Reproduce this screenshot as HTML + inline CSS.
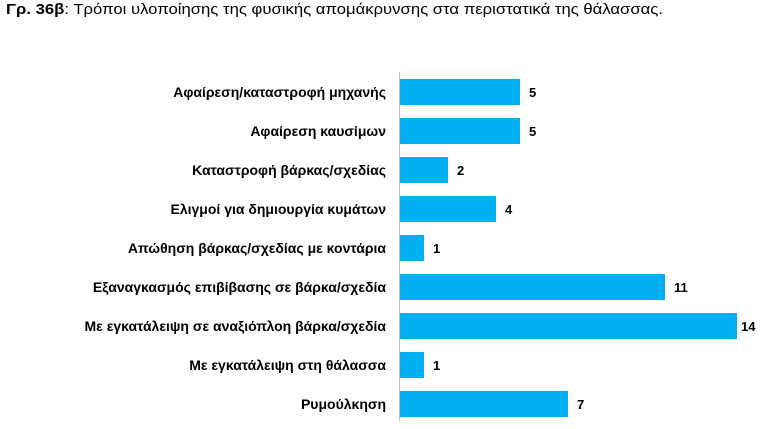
<!DOCTYPE html>
<html><head><meta charset="utf-8"><style>
body{margin:0;background:#fff;width:764px;height:424px;overflow:hidden;font-family:"Liberation Sans",sans-serif}
</style></head><body>
<svg width="764" height="424" xmlns="http://www.w3.org/2000/svg" font-family="Liberation Sans, sans-serif">
<text x="6" y="14" font-size="15" fill="#000" textLength="657" lengthAdjust="spacingAndGlyphs"><tspan font-weight="bold">Γρ. 36β</tspan>: Τρόποι υλοποίησης της φυσικής απομάκρυνσης στα περιστατικά της θάλασσας.</text>
<line x1="399.5" y1="72" x2="399.5" y2="421" stroke="#bfbfbf" stroke-width="1"/>
<g fill="#00B0F0">
<rect x="400" y="79" width="120" height="26"/>
<rect x="400" y="118" width="120" height="26"/>
<rect x="400" y="157" width="48" height="26"/>
<rect x="400" y="196" width="96" height="26"/>
<rect x="400" y="235" width="24" height="26"/>
<rect x="400" y="274" width="265" height="26"/>
<rect x="400" y="313" width="337" height="26"/>
<rect x="400" y="352" width="24" height="26"/>
<rect x="400" y="391" width="168" height="26"/>
</g>
<g font-size="14" font-weight="bold" fill="#000" text-anchor="end">
<text x="386" y="97">Αφαίρεση/καταστροφή μηχανής</text>
<text x="386" y="136">Αφαίρεση καυσίμων</text>
<text x="386" y="175">Καταστροφή βάρκας/σχεδίας</text>
<text x="386" y="214">Ελιγμοί για δημιουργία κυμάτων</text>
<text x="386" y="253">Απώθηση βάρκας/σχεδίας με κοντάρια</text>
<text x="386" y="292">Εξαναγκασμός επιβίβασης σε βάρκα/σχεδία</text>
<text x="386" y="331">Με εγκατάλειψη σε αναξιόπλοη βάρκα/σχεδία</text>
<text x="386" y="370">Με εγκατάλειψη στη θάλασσα</text>
<text x="386" y="409">Ρυμούλκηση</text>
</g>
<g font-size="13" font-weight="bold" fill="#000">
<text x="529" y="97">5</text>
<text x="529" y="136">5</text>
<text x="457" y="175">2</text>
<text x="505" y="214">4</text>
<text x="433" y="253">1</text>
<text x="674" y="292">11</text>
<text x="741" y="331">14</text>
<text x="433" y="370">1</text>
<text x="577" y="409">7</text>
</g>
</svg>
</body></html>
